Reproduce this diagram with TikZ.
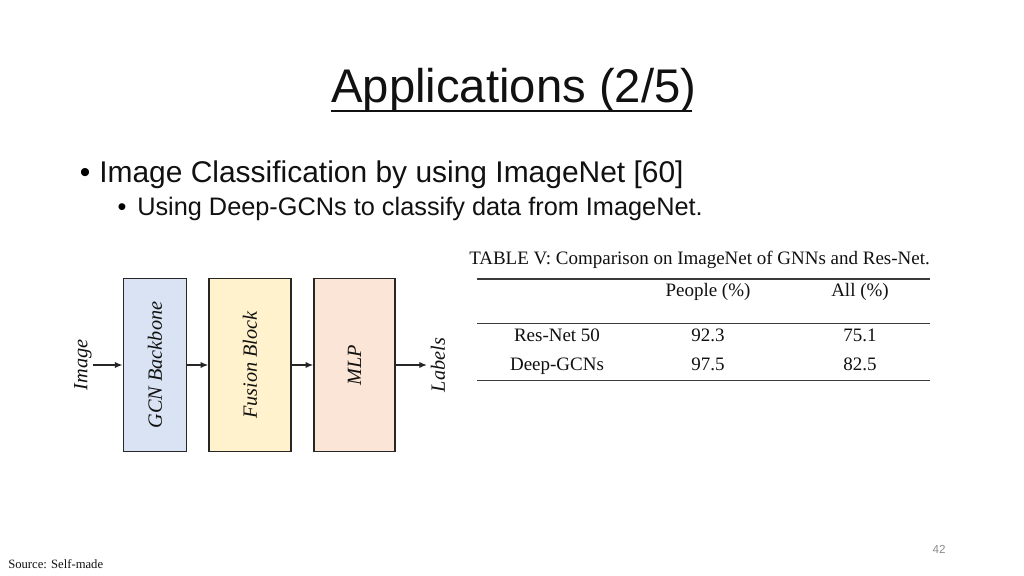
\documentclass[tikz,border=0pt]{standalone}
\usepackage{fontspec}
\setmainfont{Liberation Sans}
\newfontfamily\timesfont{Liberation Serif}
\usetikzlibrary{arrows.meta}
\definecolor{Ink}{HTML}{111111}
\definecolor{Edge}{HTML}{262626}
\definecolor{Backbone}{HTML}{DAE3F3}
\definecolor{Fusion}{HTML}{FFF2CC}
\definecolor{Head}{HTML}{FBE5D6}
\definecolor{Rule}{HTML}{3A3A3A}
\definecolor{Muted}{HTML}{8C8C8C}

\begin{document}
\begin{tikzpicture}[x=0.025cm,y=-0.025cm,
    block/.style={draw=Edge,line width=1pt,minimum height=4.335cm,inner sep=0pt},
    flow/.style={-{Latex[length=5.5pt,width=4.5pt]},line width=1pt,draw=Edge},
    tag/.style={font=\timesfont\itshape\fontsize{14.4}{16}\selectfont,text=Ink,inner sep=0pt},
    cell/.style={anchor=base,inner sep=0pt,text=Ink,font=\timesfont\fontsize{13.5}{16}\selectfont}]
  \useasboundingbox (0,0) rectangle (1024,576);
  \fill[white] (0,0) rectangle (1024,576);
  % heading and bullets
  \node[anchor=base west,inner sep=0pt,text=Ink,font=\fontsize{33.6}{40}\selectfont] (title) at (331,103) {Applications (2/5)};
  \draw[line width=0.9pt,Ink] (331,111) -- (692,111);
  \node[anchor=base,inner sep=0pt,font=\fontsize{21.3}{24}\selectfont] (dot1) at (85,182.5) {•};
  \node[anchor=base west,inner sep=0pt,text=Ink,font=\fontsize{21.3}{24}\selectfont] (item1) at (99,182.5) {Image Classification by using ImageNet [60]};
  \node[anchor=base,inner sep=0pt,font=\fontsize{18}{21}\selectfont] (dot2) at (122,215.7) {•};
  \node[anchor=base west,inner sep=0pt,text=Ink,font=\fontsize{18}{21}\selectfont] (item2) at (137,215.7) {Using Deep-GCNs to classify data from ImageNet.};
  % pipeline
  \foreach \id/\x/\w/\col/\txt in {
    gcn/155/1.585cm/Backbone/{GCN Backbone},
    fusion/250/2.05cm/Fusion/{Fusion Block},
    mlp/354.5/2.025cm/Head/{MLP}}{
    \node[block,fill=\col,minimum width=\w,tag] (\id) at (\x,365) {\rotatebox{90}{\txt}};
  }
  \coordinate (src) at (93,365);
  \coordinate (dst) at (427,365);
  \node[tag,rotate=90] (imglbl) at (83,365) {Image};
  \node[tag,rotate=90] (outlbl) at (438,365) {Labels};
  \draw[flow] (src) -- (gcn);
  \draw[flow] (gcn) -- (fusion);
  \draw[flow] (fusion) -- (mlp);
  \draw[flow] (mlp) -- (dst);
  % table
  \node[anchor=base west,inner sep=0pt,text=Ink,font=\timesfont\fontsize{13.5}{16}\selectfont] (caption) at (469,265) {TABLE V: Comparison on ImageNet of GNNs and Res-Net.};
  \draw[Rule,line width=0.9pt] (477,279) -- (930,279);
  \draw[Rule,line width=0.7pt] (477,323.3) -- (930,323.3);
  \draw[Rule,line width=0.9pt] (477,380.7) -- (930,380.7);
  \node[cell] (hpeople) at (708,296.7) {People (\%)};
  \node[cell] (hall) at (860,296.7) {All (\%)};
  \foreach \row/\name/\people/\all/\y in {
    r1/{Res-Net 50}/92.3/75.1/341.7,
    r2/{Deep-GCNs}/97.5/82.5/370}{
    \node[cell] (\row-name) at (557,\y) {\name};
    \node[cell] (\row-people) at (708,\y) {\people};
    \node[cell] (\row-all) at (860,\y) {\all};
  }
  % footer
  \node[anchor=base west,inner sep=0pt,text=Ink,font=\timesfont\fontsize{9}{11}\selectfont] (source) at (8,568.3) {Source: Self-made};
  \node[anchor=base,inner sep=0pt,text=Muted,font=\fontsize{8.3}{10}\selectfont] (pageno) at (939,553.3) {42};
\end{tikzpicture}
\end{document}
